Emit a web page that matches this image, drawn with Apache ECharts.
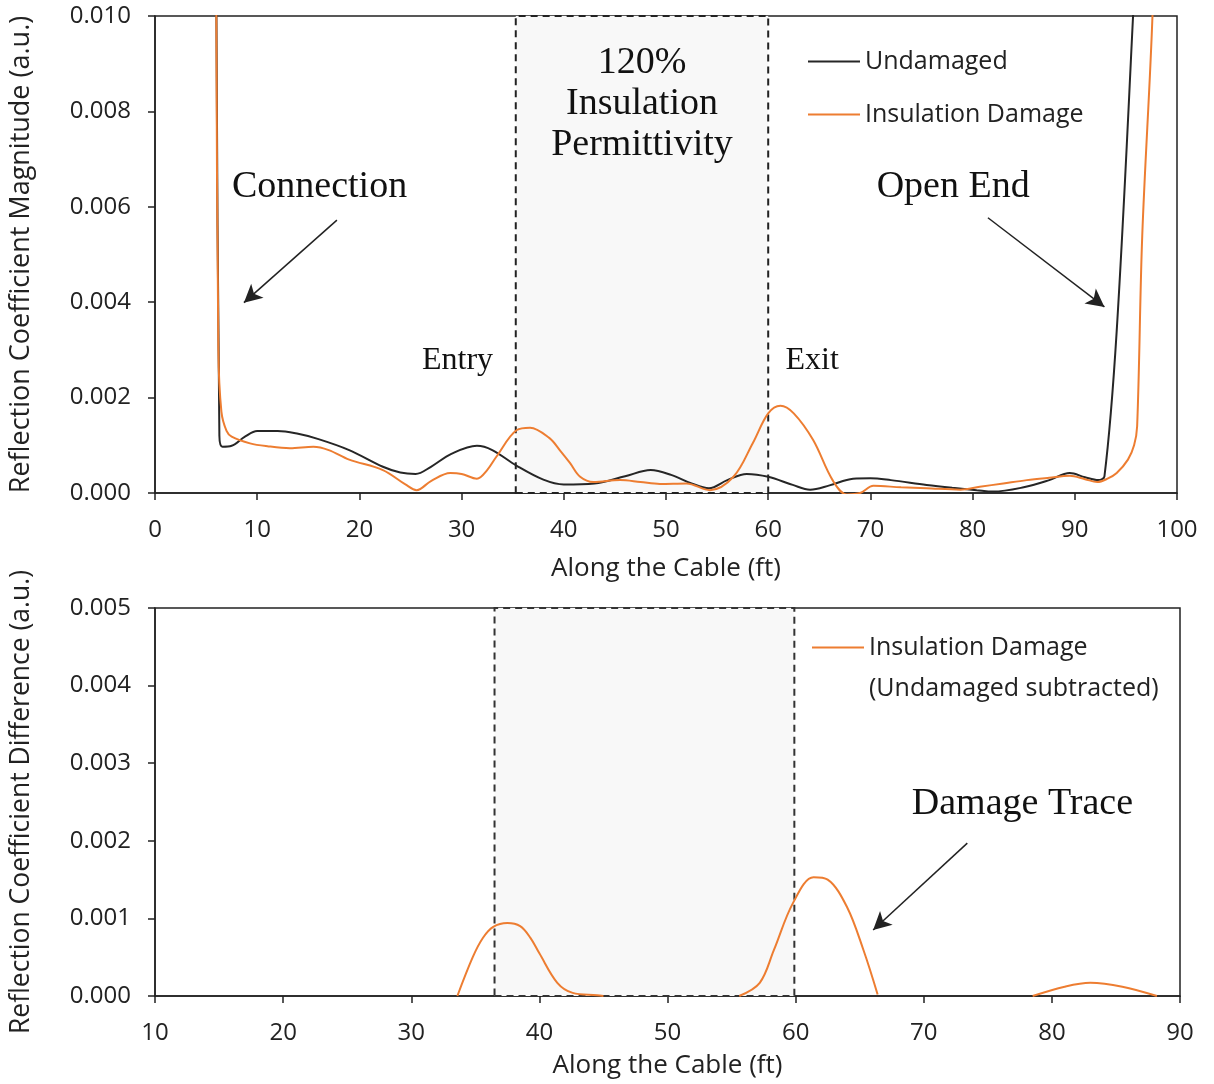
<!DOCTYPE html>
<html>
<head>
<meta charset="utf-8">
<script src="https://cdn.jsdelivr.net/npm/echarts@6/dist/echarts.min.js"></script>
<style>
html,body{margin:0;padding:0;background:#fff;}
#chart{width:1214px;height:1084px;}
</style>
</head>
<body>
<div id="chart"></div>
<script>
// ---------- data (top chart) ----------
var undamagedFt  = [5.95, 6.3, 6.6, 7.5, 8.8, 10, 12, 14, 16, 19, 22.3, 24, 25.5, 27, 29, 31.5, 33, 35.4, 38, 40, 43, 46, 48.5, 50.5, 52.5, 54.2, 56, 57.9, 60, 62.4, 64.1, 66, 68.3, 70, 72, 75.5, 78, 80.4, 82, 85, 87.5, 89.5, 91, 92.3, 92.9, 94.1, 95.7, 96.2];
var undamagedVal = [0.0125, 0.0012, 0.00097, 0.00099, 0.00118, 0.0013, 0.0013, 0.00124, 0.00113, 0.0009, 0.00055, 0.00043, 0.0004, 0.00055, 0.00082, 0.00099, 0.0009, 0.00057, 0.00028, 0.00018, 0.0002, 0.00035, 0.00048, 0.00038, 0.0002, 0.0001, 0.00027, 0.0004, 0.00034, 0.00017, 0.00007, 0.00016, 0.0003, 0.00031, 0.00027, 0.00017, 0.00011, 0.00006, 0.00003, 0.00012, 0.00027, 0.00042, 0.00033, 0.00027, 0.00035, 0.0034, 0.0100, 0.0125];

var damagedFt  = [5.95, 6.2, 6.5, 7.0, 7.5, 9.3, 11, 13.2, 15.5, 17, 19, 22.3, 24.5, 25.6, 27, 28.9, 30, 31.5, 32.5, 33.4, 35.4, 36.7, 38.6, 39.6, 40.6, 41.6, 42.9, 45.5, 47.5, 49.4, 52, 54.3, 56.6, 58.5, 60, 61.2, 62.5, 64.4, 66.3, 67.7, 69, 70.3, 73, 75.5, 78.8, 80.7, 83, 85.3, 87.5, 89.5, 91, 92.2, 93.2, 94.1, 95.2, 95.8, 96.1, 96.6, 97.6, 97.8];
var damagedVal = [0.0125, 0.003, 0.0017, 0.0013, 0.00118, 0.00104, 0.00098, 0.00094, 0.00097, 0.0009, 0.0007, 0.00048, 0.00018, 0.00006, 0.00025, 0.00042, 0.0004, 0.0003, 0.00048, 0.00076, 0.00132, 0.00137, 0.00115, 0.0009, 0.00063, 0.00034, 0.00023, 0.00027, 0.00023, 0.00019, 0.0002, 0.00006, 0.00034, 0.00105, 0.00167, 0.00183, 0.00167, 0.00111, 0.00027, -0.00003, 0.0, 0.00015, 0.00012, 0.0001, 0.00007, 0.00013, 0.0002, 0.00027, 0.00032, 0.00036, 0.00029, 0.00023, 0.0003, 0.00042, 0.0007, 0.001, 0.0014, 0.0054, 0.0100, 0.0125];

// ---------- data (bottom chart) ----------
var diffFt  = [33.6, 34.8, 35.6, 36.4, 37.5, 38.5, 39.3, 40, 41.4, 42.6, 44.5, 45, 45.1, 55.6, 57.2, 58.3, 59.8, 61.4, 62.5, 64, 65.3, 66.4, 66.5, 78.5, 81, 83, 85.5, 88.2];
var diffVal = [0, 0.0005, 0.00075, 0.00089, 0.00094, 0.0009, 0.00075, 0.00055, 0.00017, 0.00004, 0.00001, 0, null, 0, 0.00017, 0.00059, 0.0012, 0.00153, 0.0015, 0.00115, 0.00059, 0.00002, null, 0, 0.00012, 0.00017, 0.00012, 0];

// damage region (ft)
var topRegion = [35.3, 60];
var bottomRegion = [36.5, 59.9];

function zip(a, b) { return a.map(function (v, i) { return [v, b[i]]; }); }

var SANS = '"Open Sans", "DejaVu Sans", sans-serif';
var SERIF = '"Liberation Serif", "DejaVu Serif", serif';
var BLACK = '#262626';
var ORANGE = '#ED7D31';

function textMark(x, y, txt, size, lh) {
  return {
    coord: [x, y], symbol: 'circle', symbolSize: 1,
    itemStyle: { color: 'rgba(0,0,0,0)' },
    label: { show: true, position: 'inside', formatter: txt, fontFamily: SERIF, fontSize: size, lineHeight: lh || size * 1.25, color: '#111', align: 'center' }
  };
}

var axisCommonX = function (min, max, gridIndex, nameGap) {
  return {
    type: 'value', gridIndex: gridIndex, min: min, max: max, interval: 10,
    name: 'Along the Cable (ft)', nameLocation: 'middle', nameGap: nameGap,
    nameTextStyle: { fontFamily: SANS, fontSize: 26, color: '#222' },
    axisLine: { show: true, onZero: false, lineStyle: { color: '#222', width: 1.5 } },
    axisTick: { show: true, inside: false, length: 7, lineStyle: { color: '#222', width: 1.5 } },
    axisLabel: { fontFamily: SANS, fontSize: 24, color: '#222', margin: 25 },
    splitLine: { show: false }
  };
};
var axisCommonY = function (max, interval, gridIndex, name, nameSize) {
  return {
    type: 'value', gridIndex: gridIndex, min: 0, max: max, interval: interval,
    name: name, nameLocation: 'middle', nameGap: 120, nameRotate: 90,
    nameTextStyle: { fontFamily: SANS, fontSize: nameSize, color: '#222' },
    axisLine: { show: true, lineStyle: { color: '#222', width: 1.5 } },
    axisTick: { show: true, inside: false, length: 7, lineStyle: { color: '#222', width: 1.5 } },
    axisLabel: { fontFamily: SANS, fontSize: 24, color: '#222', margin: 24, formatter: function (v) { return v.toFixed(3); } },
    splitLine: { show: false }
  };
};

var chart = echarts.init(document.getElementById('chart'), null, { renderer: 'canvas' });
var option = {
  animation: false,
  backgroundColor: '#fff',
  grid: [
    { left: 155, top: 16, width: 1022, height: 477, show: true, borderColor: '#222', borderWidth: 1.5, backgroundColor: 'transparent' },
    { left: 155, top: 608, width: 1025, height: 388, show: true, borderColor: '#222', borderWidth: 1.5, backgroundColor: 'transparent' }
  ],
  xAxis: [axisCommonX(0, 100, 0, 63), axisCommonX(10, 90, 1, 57)],
  yAxis: [
    axisCommonY(0.010, 0.002, 0, 'Reflection Coefficient Magnitude (a.u.)', 27),
    axisCommonY(0.005, 0.001, 1, 'Reflection Coefficient Difference (a.u.)', 26.5)
  ],
  legend: [
    {
      left: 808, top: 49, padding: 0, orient: 'vertical', itemWidth: 52, itemHeight: 2, itemGap: 28, icon: 'rect',
      data: ['Undamaged', 'Insulation Damage'],
      textStyle: { fontFamily: SANS, fontSize: 25, color: '#222', lineHeight: 22 }
    },
    {
      left: 812, top: 635, padding: 0, orient: 'vertical', itemWidth: 52, itemHeight: 2, icon: 'rect',
      data: ['Insulation Damage (Undamaged subtracted)'],
      formatter: function () { return 'Insulation Damage'; },
      textStyle: { fontFamily: SANS, fontSize: 25, color: '#222', lineHeight: 22 }
    }
  ],
  graphic: [
    { type: 'text', left: 869, top: 676, style: { text: '(Undamaged subtracted)', font: '25px "Open Sans", sans-serif', fill: '#222' } }
  ],
  series: [
    {
      name: 'Undamaged', type: 'line', xAxisIndex: 0, yAxisIndex: 0,
      data: zip(undamagedFt, undamagedVal), smooth: 0.35, showSymbol: false, symbol: 'none',
      lineStyle: { color: BLACK, width: 2 }, itemStyle: { color: BLACK }, z: 3,
      markArea: {
        silent: true,
        itemStyle: { color: '#f8f8f8', borderColor: '#222', borderWidth: 2, borderType: [7, 5] },
        data: [[{ coord: [topRegion[0], 0] }, { coord: [topRegion[1], 0.010] }]]
      },
      markPoint: {
        silent: true,
        data: [
          textMark(16.1, 0.00641, 'Connection', 38),
          textMark(78.1, 0.00641, 'Open End', 38),
          textMark(29.6, 0.00277, 'Entry', 32),
          textMark(64.3, 0.00277, 'Exit', 32),
          textMark(47.65, 0.00815, '120%\nInsulation\nPermittivity', 38, 41)
        ]
      },
      markLine: {
        silent: true, symbol: ['none', 'arrow'], symbolSize: [14, 18],
        lineStyle: { color: '#222', width: 1.5, type: 'solid' }, label: { show: false },
        data: [
          [{ coord: [17.8, 0.00572] }, { coord: [8.7, 0.00399] }],
          [{ coord: [81.5, 0.00577] }, { coord: [92.9, 0.0039] }]
        ]
      }
    },
    {
      name: 'Insulation Damage', type: 'line', xAxisIndex: 0, yAxisIndex: 0,
      data: zip(damagedFt, damagedVal), smooth: 0.35, showSymbol: false, symbol: 'none',
      lineStyle: { color: ORANGE, width: 2 }, itemStyle: { color: ORANGE }, z: 4
    },
    {
      name: 'Insulation Damage (Undamaged subtracted)', type: 'line', xAxisIndex: 1, yAxisIndex: 1,
      data: zip(diffFt, diffVal), smooth: 0.35, showSymbol: false, symbol: 'none', connectNulls: false,
      lineStyle: { color: ORANGE, width: 2 }, itemStyle: { color: ORANGE }, z: 4,
      markArea: {
        silent: true,
        itemStyle: { color: '#f8f8f8', borderColor: '#333', borderWidth: 2, borderType: [7, 5] },
        data: [[{ coord: [bottomRegion[0], 0] }, { coord: [bottomRegion[1], 0.005] }]]
      },
      markPoint: {
        silent: true,
        data: [textMark(77.7, 0.00247, 'Damage Trace', 38)]
      },
      markLine: {
        silent: true, symbol: ['none', 'arrow'], symbolSize: [14, 18],
        lineStyle: { color: '#222', width: 1.5, type: 'solid' }, label: { show: false },
        data: [[{ coord: [73.4, 0.00197] }, { coord: [66.05, 0.00085] }]]
      }
    }
  ]
};
chart.setOption(option);
</script>
</body>
</html>
